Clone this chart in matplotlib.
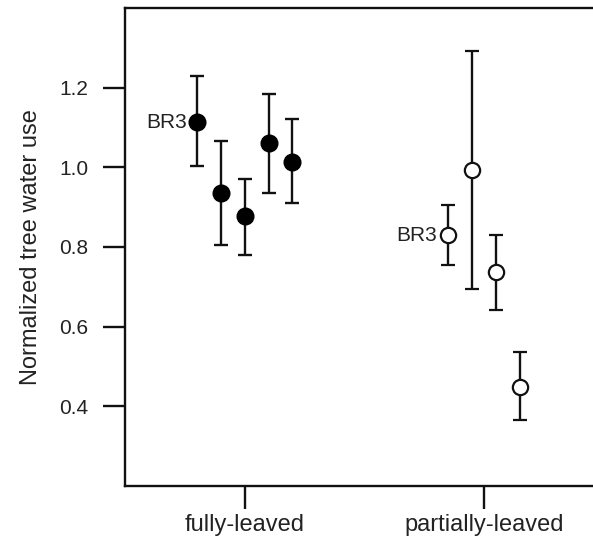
import matplotlib.pyplot as plt

plt.rcParams['font.family'] = ['Liberation Sans', 'DejaVu Sans']

groups = ["fully-leaved", "partially-leaved"]

# fully-leaved trees (filled)
full_x = [0.8, 0.9, 1.0, 1.1, 1.2]
full_y = [1.114, 0.936, 0.877, 1.062, 1.015]
full_lo = [1.003, 0.804, 0.781, 0.936, 0.911]
full_hi = [1.229, 1.067, 0.972, 1.186, 1.123]

# partially-leaved trees (open)
part_x = [1.85, 1.95, 2.05, 2.15]
part_y = [0.829, 0.993, 0.736, 0.449]
part_lo = [0.754, 0.695, 0.642, 0.364]
part_hi = [0.906, 1.292, 0.829, 0.535]

fig = plt.figure(figsize=(5.93, 5.4), dpi=100)
ax = fig.add_axes([0.2108, 0.1009, 0.807, 0.8834])

def err(y, lo, hi):
    return [[a - b for a, b in zip(y, lo)], [c - a for a, c in zip(y, hi)]]

ax.errorbar(full_x, full_y, yerr=err(full_y, full_lo, full_hi), fmt="o",
            color="#111111", mfc="black", mec="black", ms=12, elinewidth=1.7,
            capsize=5, capthick=1.7)
ax.errorbar(part_x, part_y, yerr=err(part_y, part_lo, part_hi), fmt="o",
            color="#111111", mfc="white", mec="#111111", mew=1.6, ms=11,
            elinewidth=1.7, capsize=5, capthick=1.7, zorder=3)

ax.annotate("BR3", (full_x[0], full_y[0]), xytext=(-7, 0), textcoords="offset points",
            ha="right", va="center", fontsize=15, color="#222222")
ax.annotate("BR3", (part_x[0], part_y[0]), xytext=(-8, 0), textcoords="offset points",
            ha="right", va="center", fontsize=15, color="#222222")

ax.set_xlim(0.5, 2.5)
ax.set_ylim(0.2, 1.4)
ax.set_xticks([1, 2])
ax.set_xticklabels(groups, fontsize=17, color="#222222")
ax.set_yticks([0.4, 0.6, 0.8, 1.0, 1.2])
ax.set_yticklabels(["0.4", "0.6", "0.8", "1.0", "1.2"], fontsize=15, color="#222222")
ax.set_ylabel("Normalized tree water use", fontsize=17, labelpad=12, color="#222222")

for s in ax.spines.values():
    s.set_linewidth(1.7)
    s.set_color("#111111")
ax.tick_params(axis="y", length=15.6, width=1.7, pad=11, color="#111111")
ax.tick_params(axis="x", length=16.5, width=1.7, pad=4, color="#111111")

fig.savefig("out.png", dpi=100)
